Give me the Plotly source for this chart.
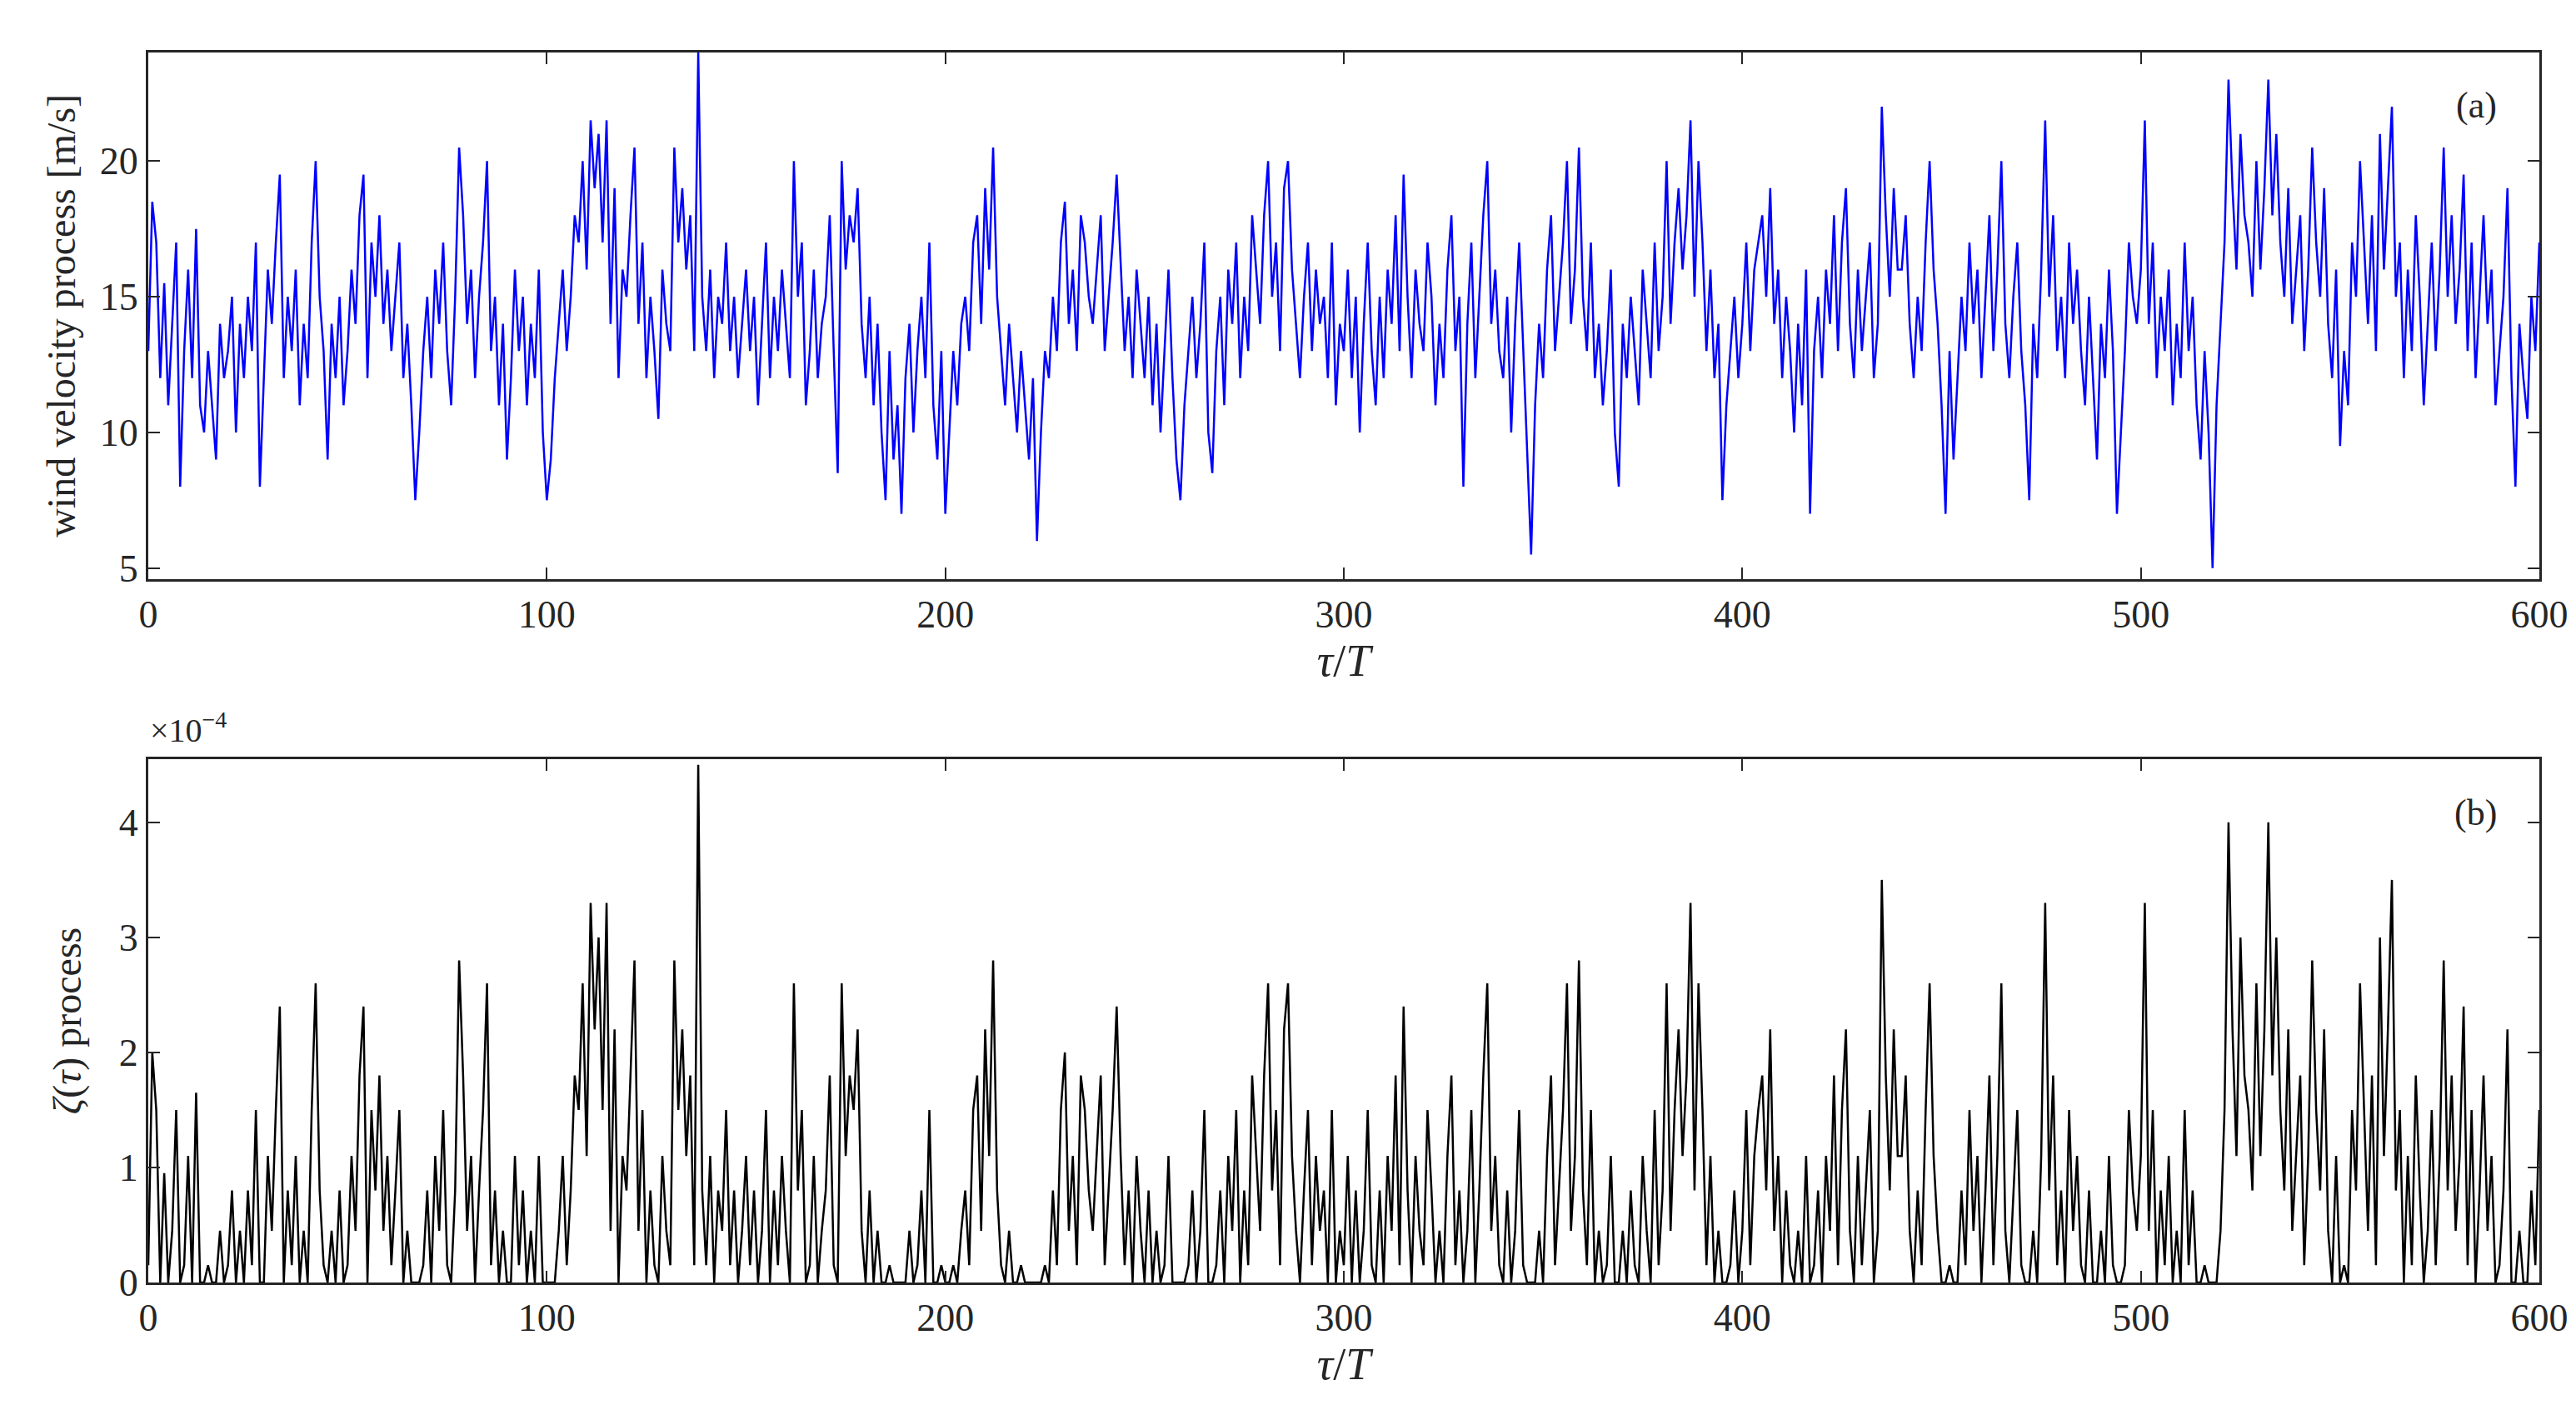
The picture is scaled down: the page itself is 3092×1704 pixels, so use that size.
import plotly.graph_objects as go

tau = list(range(0, 601))

wind = [
    13,18.5,17,12,15.5,11,14,17,8,13,16,12,17.5,11,10,13,11,9,14,12,
    13,15,10,14,12,15,13,17,8,12,16,14,17,19.5,12,15,13,16,11,14,
    12,17,20,15,13,9,14,12,15,11,13,16,14,18,19.5,12,17,15,18,14,
    16,13,15,17,12,14,11,7.5,10,13,15,12,16,14,17,13,11,15,20.5,18,
    14,16,12,15,17,20,13,15,11,14,9,12,16,13,15,11,14,12,16,10,
    7.5,9,12,14,16,13,15,18,17,20,16,21.5,19,21,17,21.5,14,19,12,16,
    15,18,20.5,14,17,12,15,13,10.5,16,14,13,20.5,17,19,16,18,13,24,15,
    13,16,12,15,14,17,13,15,12,14,16,13,15,11,14,17,12,15,13,16,
    14,12,20,15,17,11,13,16,12,14,15,18,13,8.5,20,16,18,17,19,14,
    12,15,11,14,10,7.5,13,9,11,7,12,14,10,13,15,12,17,11,9,13,
    7,10,13,11,14,15,13,17,18,14,19,16,20.5,15,13,11,14,12,10,13,
    11,9,12,6,10,13,12,15,13,17,18.5,14,16,13,18,17,15,14,16,18,
    13,15,17,19.5,16,13,15,12,16,14,12,15,11,14,10,13,16,12,9,7.5,
    11,13,15,12,14,17,10,8.5,13,15,11,16,14,17,12,15,13,18,16,14,
    18,20,15,17,13,19,20,16,14,12,15,17,13,16,14,15,12,17,11,14,
    13,16,12,15,10,14,17,13,11,15,12,16,14,18,13,19.5,15,12,16,14,
    13,17,15,11,14,12,16,18,13,15,8,14,17,12,15,18,20,14,16,13,
    12,15,10,14,17,13,9,5.5,11,14,12,16,18,13,15,17,20,14,16,20.5,
    15,13,17,12,14,11,13,16,10,8,14,12,15,13,11,16,14,12,17,13,
    15,20,14,17,19,16,18,21.5,15,20,17,13,16,12,14,7.5,11,13,15,12,
    14,17,13,16,17,18,15,19,14,16,12,15,13,10,14,11,16,7,13,15,
    12,16,14,18,13,17,19,14,12,16,13,15,17,12,14,22,18,15,19,16,
    16,18,14,12,15,13,17,20,16,14,11,7,13,9,12,15,13,17,14,16,
    12,15,18,13,16,20,14,12,15,17,13,11,7.5,14,12,16,21.5,15,18,13,
    15,12,17,14,16,13,11,15,12,9,14,12,16,13,7,10,13,17,15,14,
    16,21.5,14,17,12,15,13,16,11,14,12,17,13,15,11,9,13,10,5,11,
    14,17,23,19,16,21,18,17,15,20,16,19,23,18,21,17,15,19,14,16,
    18,13,16,20.5,17,15,19,14,12,16,9.5,13,11,17,15,20,17,14,18,13,
    21,16,19,22,15,17,12,16,13,18,15,11,14,17,13,16,20.5,15,18,14,
    16,19.5,13,17,12,15,18,14,16,11,13,15,19,12,8,14,12,10.5,15,13,
    17,
]

# zeta in units of 1e-4
zeta = [
    0.15,2.0,1.5,0,0.95,0,0.45,1.5,0,0.15,1.1,0,1.65,0,0,0.15,0,0,0.45,0,
    0.15,0.8,0,0.45,0,0.8,0.15,1.5,0,0,1.1,0.45,1.5,2.4,0,0.8,0.15,1.1,0,0.45,
    0,1.5,2.6,0.8,0.15,0,0.45,0,0.8,0,0.15,1.1,0.45,1.8,2.4,0,1.5,0.8,1.8,0.45,
    1.1,0.15,0.8,1.5,0,0.45,0,0,0,0.15,0.8,0,1.1,0.45,1.5,0.15,0,0.8,2.8,1.8,
    0.45,1.1,0,0.8,1.5,2.6,0.15,0.8,0,0.45,0,0,1.1,0.15,0.8,0,0.45,0,1.1,0,
    0,0,0,0.45,1.1,0.15,0.8,1.8,1.5,2.6,1.1,3.3,2.2,3.0,1.5,3.3,0.45,2.2,0,1.1,
    0.8,1.8,2.8,0.45,1.5,0,0.8,0.15,0,1.1,0.45,0.15,2.8,1.5,2.2,1.1,1.8,0.15,4.5,0.8,
    0.15,1.1,0,0.8,0.45,1.5,0.15,0.8,0,0.45,1.1,0.15,0.8,0,0.45,1.5,0,0.8,0.15,1.1,
    0.45,0,2.6,0.8,1.5,0,0.15,1.1,0,0.45,0.8,1.8,0.15,0,2.6,1.1,1.8,1.5,2.2,0.45,
    0,0.8,0,0.45,0,0,0.15,0,0,0,0,0.45,0,0.15,0.8,0,1.5,0,0,0.15,
    0,0,0.15,0,0.45,0.8,0.15,1.5,1.8,0.45,2.2,1.1,2.8,0.8,0.15,0,0.45,0,0,0.15,
    0,0,0,0,0,0.15,0,0.8,0.15,1.5,2.0,0.45,1.1,0.15,1.8,1.5,0.8,0.45,1.1,1.8,
    0.15,0.8,1.5,2.4,1.1,0.15,0.8,0,1.1,0.45,0,0.8,0,0.45,0,0.15,1.1,0,0,0,
    0,0.15,0.8,0,0.45,1.5,0,0,0.15,0.8,0,1.1,0.45,1.5,0,0.8,0.15,1.8,1.1,0.45,
    1.8,2.6,0.8,1.5,0.15,2.2,2.6,1.1,0.45,0,0.8,1.5,0.15,1.1,0.45,0.8,0,1.5,0,0.45,
    0.15,1.1,0,0.8,0,0.45,1.5,0.15,0,0.8,0,1.1,0.45,1.8,0.15,2.4,0.8,0,1.1,0.45,
    0.15,1.5,0.8,0,0.45,0,1.1,1.8,0.15,0.8,0,0.45,1.5,0,0.8,1.8,2.6,0.45,1.1,0.15,
    0,0.8,0,0.45,1.5,0.15,0,0,0,0.45,0,1.1,1.8,0.15,0.8,1.5,2.6,0.45,1.1,2.8,
    0.8,0.15,1.5,0,0.45,0,0.15,1.1,0,0,0.45,0,0.8,0.15,0,1.1,0.45,0,1.5,0.15,
    0.8,2.6,0.45,1.5,2.2,1.1,1.8,3.3,0.8,2.6,1.5,0.15,1.1,0,0.45,0,0,0.15,0.8,0,
    0.45,1.5,0.15,1.1,1.5,1.8,0.8,2.2,0.45,1.1,0,0.8,0.15,0,0.45,0,1.1,0,0.15,0.8,
    0,1.1,0.45,1.8,0.15,1.5,2.2,0.45,0,1.1,0.15,0.8,1.5,0,0.45,3.5,1.8,0.8,2.2,1.1,
    1.1,1.8,0.45,0,0.8,0.15,1.5,2.6,1.1,0.45,0,0,0.15,0,0,0.8,0.15,1.5,0.45,1.1,
    0,0.8,1.8,0.15,1.1,2.6,0.45,0,0.8,1.5,0.15,0,0,0.45,0,1.1,3.3,0.8,1.8,0.15,
    0.8,0,1.5,0.45,1.1,0.15,0,0.8,0,0,0.45,0,1.1,0.15,0,0,0.15,1.5,0.8,0.45,
    1.1,3.3,0.45,1.5,0,0.8,0.15,1.1,0,0.45,0,1.5,0.15,0.8,0,0,0.15,0,0,0,
    0.45,1.5,4.0,2.2,1.1,3.0,1.8,1.5,0.8,2.6,1.1,2.2,4.0,1.8,3.0,1.5,0.8,2.2,0.45,1.1,
    1.8,0.15,1.1,2.8,1.5,0.8,2.2,0.45,0,1.1,0,0.15,0,1.5,0.8,2.6,1.5,0.45,1.8,0.15,
    3.0,1.1,2.2,3.5,0.8,1.5,0,1.1,0.15,1.8,0.8,0,0.45,1.5,0.15,1.1,2.8,0.8,1.8,0.45,
    1.1,2.4,0.15,1.5,0,0.8,1.8,0.45,1.1,0,0.15,0.8,2.2,0,0,0.45,0,0,0.8,0.15,
    1.5,
]

FONT = "Liberation Serif"

fig = go.Figure()
fig.add_trace(go.Scatter(x=tau, y=wind, mode='lines', line=dict(color='#0000ff', width=2.5),
                         xaxis='x', yaxis='y', showlegend=False))
fig.add_trace(go.Scatter(x=tau, y=zeta, mode='lines', line=dict(color='black', width=2.5),
                         xaxis='x2', yaxis='y2', showlegend=False))

axis_common = dict(showgrid=False, zeroline=False, showline=True, linecolor='#262626',
                   linewidth=3, mirror='ticks', ticks='inside', ticklen=14, tickwidth=2,
                   tickcolor='#262626', tickfont=dict(family=FONT, size=46, color='#262626'))

fig.update_layout(
    width=3092, height=1704,
    paper_bgcolor='white', plot_bgcolor='white',
    margin=dict(l=170, r=52, t=55, b=173),
    font=dict(family=FONT, color='#262626'),
    xaxis=dict(domain=[0, 1], range=[0, 600], tickvals=[0, 100, 200, 300, 400, 500, 600],
               anchor='y', title=dict(text='<i>τ</i>/<i>T</i>', font=dict(family=FONT, size=54), standoff=10),
               **axis_common),
    yaxis=dict(domain=[0.572, 1], range=[4.6, 24], tickvals=[5, 10, 15, 20], anchor='x',
               title=dict(text='wind velocity process [m/s]', font=dict(family=FONT, size=48), standoff=14),
               **axis_common),
    xaxis2=dict(domain=[0, 1], range=[0, 600], tickvals=[0, 100, 200, 300, 400, 500, 600],
                anchor='y2', title=dict(text='<i>τ</i>/<i>T</i>', font=dict(family=FONT, size=54), standoff=10),
                **axis_common),
    yaxis2=dict(domain=[0, 0.4255], range=[0, 4.55], tickvals=[0, 1, 2, 3, 4], anchor='x2',
                title=dict(text='<i>ζ</i>(<i>τ</i>) process', font=dict(family=FONT, size=48), standoff=30),
                **axis_common),
    annotations=[
        dict(text='(a)', x=0.983, y=0.975, xref='paper', yref='paper', showarrow=False,
             xanchor='right', yanchor='top', font=dict(family=FONT, size=44)),
        dict(text='(b)', x=0.983, y=0.4, xref='paper', yref='paper', showarrow=False,
             xanchor='right', yanchor='top', font=dict(family=FONT, size=44)),
        dict(text='×10<sup>−4</sup>', x=0, y=0.432, xref='paper', yref='paper', showarrow=False,
             xanchor='left', yanchor='bottom', font=dict(family=FONT, size=40)),
    ],
)

fig.write_html("out.html")
